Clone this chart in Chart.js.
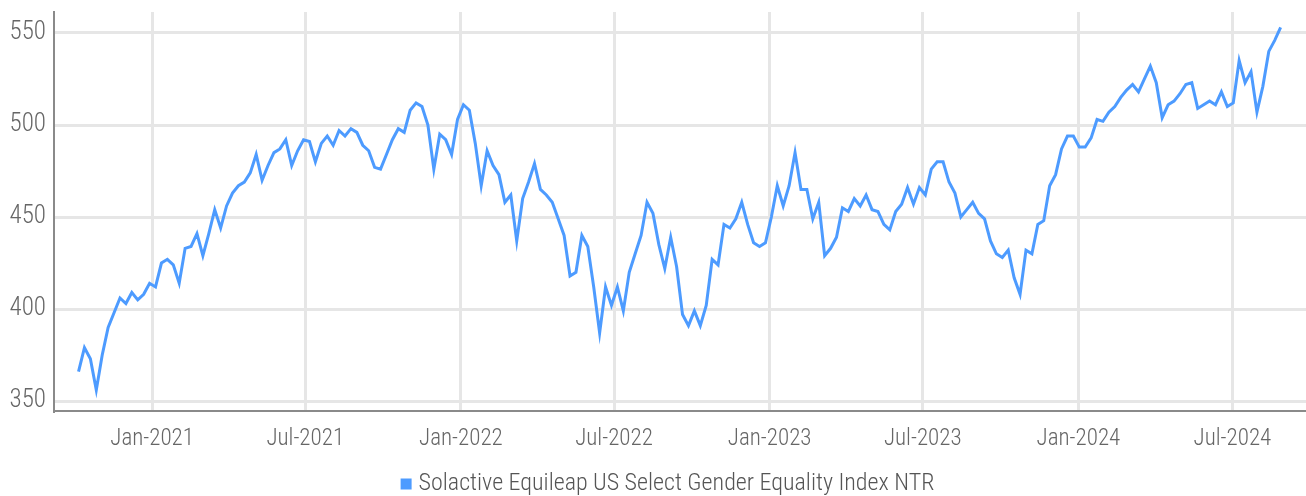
<!DOCTYPE html>
<html>
<head>
<meta charset="utf-8">
<script src="https://cdn.jsdelivr.net/npm/chart.js@4.4.1/dist/chart.umd.min.js"></script>
<style>
  html, body { margin: 0; padding: 0; background: #fff; }
  #wrap { width: 1306px; height: 496px; }
</style>
</head>
<body>
<div id="wrap"><canvas id="indexChart" width="1306" height="496"></canvas></div>
<script>
// Weekly index levels
const seriesLabel = 'Solactive Equileap US Select Gender Equality Index NTR';
const firstDate = '2020-10-06';

const values2020 = [366, 379, 373, 356, 375, 390, 398, 406, 403, 409, 405, 408, 414];
const values2021 = [
    412, 425, 427, 424, 414, 433, 434, 441, 429, 441, 454, 444, 456, 463, 467, 469,
    474, 484, 470, 478, 485, 487, 492, 478, 486, 492, 491, 480, 490, 494, 489, 497,
    494, 498, 496, 489, 486, 477, 476, 484, 492, 498, 496, 508, 512, 510, 500, 476,
    495, 492, 484, 503
];
const values2022 = [
    511, 508, 490, 467, 486, 478, 473, 458, 462, 437, 460, 469, 479, 465, 462, 458,
    449, 440, 418, 420, 440, 434, 412, 387, 412, 402, 412, 399, 420, 430, 440, 458,
    452, 435, 422, 439, 423, 397, 391, 399, 391, 402, 427, 424, 446, 444, 449, 458,
    446, 436, 434, 436
];
const values2023 = [
    450, 467, 456, 467, 485, 465, 465, 449, 458, 429, 433, 439, 455, 453, 460, 456,
    462, 454, 453, 446, 443, 453, 457, 466, 457, 466, 462, 476, 480, 480, 469, 463,
    450, 454, 458, 452, 449, 437, 430, 428, 432, 417, 408, 432, 430, 446, 448, 467,
    473, 487, 494, 494
];
const values2024 = [
    488, 488, 493, 503, 502, 507, 510, 515, 519, 522, 518, 525, 532, 523, 504, 511,
    513, 517, 522, 523, 509, 511, 513, 511, 518, 510, 512, 535, 523, 529, 507, 521,
    540, 546, 553
];

const xRange = ['2020-09-07', '2024-09-26'];
const yRange = [344.6, 561.4];
const tickDates = ['2021-01-01', '2021-07-01', '2022-01-01', '2022-07-01',
                   '2023-01-01', '2023-07-01', '2024-01-01', '2024-07-01'];
const tickLabels = ['Jan-2021', 'Jul-2021', 'Jan-2022', 'Jul-2022',
                    'Jan-2023', 'Jul-2023', 'Jan-2024', 'Jul-2024'];
const yTicks = [350, 400, 450, 500, 550];

const DAY = 864e5;
const lineColor = '#4d9bff';
const fontFamily = "'Roboto Condensed', 'DejaVu Sans Condensed', sans-serif";

const allValues = [].concat(values2020, values2021, values2022, values2023, values2024);
const start = Date.parse(firstDate);
const points = allValues.map((v, i) => ({ x: start + i * 7 * DAY, y: v }));

// the legend sits a little left of the plot centre in the original
const legendNudge = {
    id: 'legendNudge',
    afterLayout(chart) {
        chart.legend.left -= 10;
        chart.legend.right -= 10;
    }
};

new Chart(document.getElementById('indexChart'), {
    type: 'line',
    data: {
        datasets: [{
            label: seriesLabel,
            data: points,
            borderColor: lineColor,
            backgroundColor: lineColor,
            borderWidth: 3,
            pointRadius: 0,
            tension: 0
        }]
    },
    options: {
        responsive: false,
        animation: false,
        layout: { padding: { top: 12, right: 0, left: 0, bottom: -10 } },
        scales: {
            x: {
                type: 'linear',
                min: Date.parse(xRange[0]),
                max: Date.parse(xRange[1]),
                border: { display: true, color: '#8a8a8a', width: 2 },
                grid: { color: '#e6e6e6', lineWidth: 3, drawTicks: false },
                ticks: {
                    padding: 14,
                    maxRotation: 0,
                    color: '#666',
                    font: { family: fontFamily, weight: 300, size: 23 },
                    callback: (value, index) => tickLabels[index]
                },
                afterBuildTicks: axis => {
                    axis.ticks = tickDates.map(d => ({ value: Date.parse(d) }));
                },
                afterFit: axis => { axis.height = 61; }
            },
            y: {
                min: yRange[0],
                max: yRange[1],
                border: { display: true, color: '#8a8a8a', width: 2 },
                grid: { color: '#e6e6e6', lineWidth: 3, drawTicks: false },
                ticks: {
                    padding: 8,
                    color: '#666',
                    font: { family: fontFamily, weight: 300, size: 25 }
                },
                afterBuildTicks: axis => {
                    axis.ticks = yTicks.map(v => ({ value: v }));
                },
                afterFit: axis => {
                    axis.width = 54;
                    axis.paddingTop = 0;
                    axis.paddingBottom = 0;
                }
            }
        },
        plugins: {
            tooltip: { enabled: false },
            legend: {
                position: 'bottom',
                fullSize: false,
                labels: {
                    usePointStyle: true,
                    pointStyle: 'rect',
                    boxWidth: 1,
                    boxHeight: 11,
                    padding: 0,
                    color: '#555',
                    font: { family: fontFamily, weight: 300, size: 24 },
                    generateLabels: chart =>
                        Chart.defaults.plugins.legend.labels.generateLabels(chart)
                            .map(item => ({ ...item, lineWidth: 0, fillStyle: lineColor }))
                }
            }
        }
    },
    plugins: [legendNudge]
});
</script>
</body>
</html>
